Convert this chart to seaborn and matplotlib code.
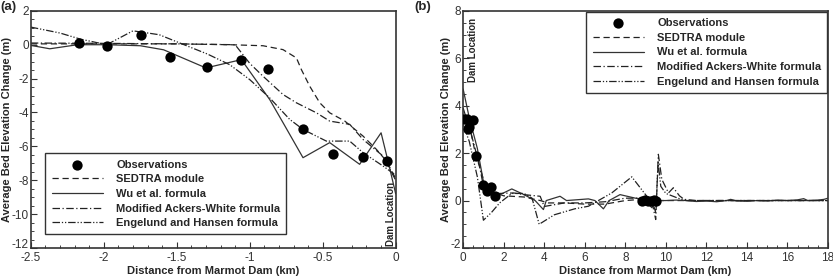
import matplotlib
matplotlib.use("Agg")
import matplotlib.pyplot as plt
import matplotlib.transforms as mtransforms
import seaborn as sns
import pandas as pd

# ---- panel (a): last 2.5 km upstream of the dam ----
a_obs_x = [-2.17, -1.98, -1.745, -1.546, -1.29, -1.057, -0.875, -0.632, -0.427, -0.224, -0.06]
a_obs_y = [0.13, -0.1, 0.55, -0.7, -1.3, -0.88, -1.43, -4.96, -6.47, -6.6, -6.86]

a_sed_x = [-2.5, -2.0, -1.5, -1.137, -0.909, -0.772, -0.68, -0.646, -0.589, -0.52, -0.452, -0.35, -0.224, -0.132, -0.064, 0.0]
a_sed_y = [0.05, 0.05, 0.05, 0.0, -0.06, -0.29, -0.78, -1.47, -2.45, -3.43, -4.02, -4.5, -5.39, -6.18, -6.86, -7.9]

a_wu_x = [-2.5, -2.37, -2.18, -1.98, -1.75, -1.59, -1.3, -1.057, -0.863, -0.772, -0.635, -0.452, -0.247, -0.1, -0.05, 0.0]
a_wu_y = [-0.04, -0.24, 0.0, 0.0, -0.06, -0.3, -1.37, -0.88, -3.24, -4.6, -6.67, -5.78, -7.06, -5.2, -6.96, -8.8]

a_aw_x = [-2.5, -2.0, -1.5, -1.1, -1.0, -0.909, -0.772, -0.68, -0.543, -0.452, -0.315, -0.224, -0.087, 0.0]
a_aw_y = [0.1, 0.08, 0.05, 0.0, -1.1, -1.86, -2.94, -3.43, -4.02, -4.51, -4.7, -5.59, -6.57, -8.0]

a_eh_x = [-2.5, -2.3, -2.16, -1.98, -1.8, -1.62, -1.45, -1.29, -1.137, -1.0, -0.863, -0.726, -0.635, -0.475, -0.315, -0.224, -0.087, 0.0]
a_eh_y = [1.04, 0.69, 0.33, 0.0, 0.82, 0.59, 0.0, -0.55, -1.18, -2.06, -3.14, -4.41, -5.0, -5.69, -5.69, -6.37, -7.16, -7.7]

a_xticks = [-2.5, -2, -1.5, -1, -0.5, 0]
a_xlabels = ["-2.5", "-2", "-1.5", "-1", "-0.5", "0"]
a_yticks = [-12, -10, -8, -6, -4, -2, 0, 2]

# ---- panel (b): 18 km downstream of the dam ----
b_obs_x = [0.05, 0.2, 0.3, 0.51, 0.26, 0.64, 1.0, 1.17, 1.38, 1.58, 1.25, 8.8, 8.95, 9.1, 9.25, 9.4, 9.5]
b_obs_y = [3.45, 3.42, 3.1, 3.4, 3.0, 1.87, 0.67, 0.39, 0.58, 0.21, 0.5, 0.0, 0.02, -0.02, 0.0, 0.03, 0.0]

b_sed_x = [0, 0.3, 0.6, 1.0, 1.5, 2.0, 3.0, 3.8, 4.2, 5.0, 6.0, 7.0, 8.0, 8.8, 9.5, 10, 11, 12, 14, 16, 18]
b_sed_y = [3.6, 3.2, 2.0, 0.9, 0.35, 0.2, 0.15, 0.0, -0.1, -0.1, -0.15, -0.15, 0.0, 0.05, 0.0, 0.0, 0.0, 0.0, 0.0, 0.0, 0.0]

b_wu_x = [0, 0.3, 0.7, 1.0, 1.3, 1.6, 1.82, 2.4, 3.0, 3.55, 3.96, 4.1, 4.78, 5.1, 6.18, 6.5, 6.92, 7.2, 7.74,
          8.5, 9.0, 9.3, 9.6, 10.0, 10.5, 11, 11.5, 12, 12.5, 13, 13.2, 13.5, 14, 14.5, 15, 15.5, 16, 16.5,
          16.8, 17, 17.5, 17.8, 18]
b_wu_y = [4.7, 3.5, 2.2, 0.8, 0.3, 0.1, 0.25, 0.49, 0.25, 0.0, -0.38, 0.0, 0.18, 0.0, 0.07, 0.0, -0.35, 0.0, 0.25,
          0.1, 0.05, -0.3, 0.0, 0.0, 0.02, 0.0, -0.04, -0.02, -0.05, 0.0, 0.05, -0.02, -0.03, 0.0, -0.02, 0.02,
          0.0, 0.03, 0.08, 0.0, 0.02, 0.05, 0.1]

b_aw_x = [0, 0.4, 0.8, 1.0, 1.3, 1.8, 2.5, 3.0, 3.8, 4.0, 5.0, 6.0, 7.0, 8.0, 8.8, 9.3, 9.5, 9.63, 9.8,
          10.13, 10.37, 10.67, 10.9, 11.5, 12, 14, 16, 18]
b_aw_y = [3.9, 2.8, 1.5, 0.6, 0.35, 0.3, 0.32, 0.25, 0.18, -0.25, -0.1, -0.1, -0.05, 0.1, 0.1, 0.0, -0.8, 1.95, 0.9,
          0.32, 0.54, 0.2, 0.05, 0.0, 0.0, 0.0, 0.0, 0.0]

b_eh_x = [0, 0.3, 0.7, 1.0, 1.4, 1.8, 2.4, 3.0, 3.4, 3.75, 4.5, 5.5, 6.18, 7.33, 8.32, 9.06, 9.3, 9.5, 9.62,
          9.75, 10.0, 10.6, 11, 12, 14, 16, 18]
b_eh_y = [3.2, 2.5, 1.0, -0.83, -0.5, -0.1, 0.3, 0.3, 0.1, -1.0, -0.6, -0.35, -0.24, 0.32, 1.0, 0.18, 0.05, -0.5, 1.6,
          0.6, 0.3, 0.1, 0.0, 0.0, 0.0, 0.0, 0.0]

b_xticks = [0, 2, 4, 6, 8, 10, 12, 14, 16, 18]
b_yticks = [-2, 0, 2, 4, 6, 8]

labels = ["Observations", "SEDTRA module", "Wu et al. formula",
          "Modified Ackers-White formula", "Engelund and Hansen formula"]

sns.set_style("ticks")
plt.rcParams['font.family'] = ['Liberation Sans', 'DejaVu Sans']
plt.rcParams['axes.unicode_minus'] = False

styles = {
    "SEDTRA module": dict(linestyle=(0, (5, 3)), color="#222222"),
    "Wu et al. formula": dict(linestyle="-", color="#333333"),
    "Modified Ackers-White formula": dict(linestyle=(0, (6, 2, 1, 2)), color="#222222"),
    "Engelund and Hansen formula": dict(linestyle=(0, (6, 1.5, 1, 1.5, 1, 1.5)), color="#222222"),
}


def draw_panel(ax, obs, series):
    for name, (xs, ys) in series.items():
        df = pd.DataFrame({"x": xs, "y": ys})
        sns.lineplot(data=df, x="x", y="y", ax=ax, sort=False, errorbar=None,
                     linewidth=0.9, label=name, **styles[name])
    sns.scatterplot(x=obs[0], y=obs[1], ax=ax, color="black", s=55,
                    edgecolor="black", linewidth=0, label="Observations", zorder=5)
    h, l = ax.get_legend_handles_labels()
    order = [l.index(n) for n in labels]
    return [h[i] for i in order]


fig = plt.figure(figsize=(8.33, 2.78), dpi=100)
ax_a = fig.add_axes([0.037, 0.108, 0.438, 0.853])
ax_b = fig.add_axes([0.556, 0.108, 0.438, 0.853])

ha = draw_panel(ax_a, (a_obs_x, a_obs_y),
                {"SEDTRA module": (a_sed_x, a_sed_y), "Wu et al. formula": (a_wu_x, a_wu_y),
                 "Modified Ackers-White formula": (a_aw_x, a_aw_y),
                 "Engelund and Hansen formula": (a_eh_x, a_eh_y)})
hb = draw_panel(ax_b, (b_obs_x, b_obs_y),
                {"SEDTRA module": (b_sed_x, b_sed_y), "Wu et al. formula": (b_wu_x, b_wu_y),
                 "Modified Ackers-White formula": (b_aw_x, b_aw_y),
                 "Engelund and Hansen formula": (b_eh_x, b_eh_y)})

leg_kw = dict(prop={'weight': 'bold', 'size': 8}, frameon=True, fancybox=False,
              framealpha=1, edgecolor="#333333", handlelength=4.6, handletextpad=1.2,
              labelspacing=0.42, borderpad=0.55, scatterpoints=1)
la = ax_a.legend(ha, labels, loc="lower left", bbox_to_anchor=(0.025, 0.034), **leg_kw)
lb = ax_b.legend(hb, labels, loc="upper right", bbox_to_anchor=(0.998, 0.995), borderaxespad=0, **leg_kw)
for lg in (la, lb):
    lg.get_frame().set_linewidth(1.0)

ax_a.set_xlim(-2.5, 0)
ax_a.set_ylim(-12, 2)
ax_a.set_xticks(a_xticks)
ax_a.set_xticklabels(a_xlabels)
ax_a.set_yticks(a_yticks)
ax_a.xaxis.set_minor_locator(matplotlib.ticker.MultipleLocator(0.1))
ax_a.yaxis.set_minor_locator(matplotlib.ticker.MultipleLocator(0.5))

ax_b.set_xlim(0, 18)
ax_b.set_ylim(-2, 8)
ax_b.set_xticks(b_xticks)
ax_b.set_yticks(b_yticks)
ax_b.xaxis.set_minor_locator(matplotlib.ticker.MultipleLocator(0.5))
ax_b.yaxis.set_minor_locator(matplotlib.ticker.MultipleLocator(0.5))

for ax in (ax_a, ax_b):
    ax.set_xlabel("Distance from Marmot Dam (km)", fontsize=8, fontweight="bold", labelpad=1)
    ax.set_ylabel("Average Bed Elevation Change (m)", fontsize=8, fontweight="bold", labelpad=0)
    ax.tick_params(axis="both", which="major", direction="in", length=4, width=0.8,
                   labelsize=8.5, pad=1.5, colors="#333333")
    ax.tick_params(axis="x", which="major", pad=3)
    ax.tick_params(axis="both", which="minor", direction="in", length=2, width=0.6)
    for sp in ax.spines.values():
        sp.set_linewidth(1.2)
        sp.set_color("#333333")

# lift the lowest y labels a little so they clear the first x labels
lift = mtransforms.ScaledTranslation(0, 3 / 72, fig.dpi_scale_trans)
for ax in (ax_a, ax_b):
    lab = ax.yaxis.get_major_ticks()[0].label1
    lab.set_transform(lab.get_transform() + lift)

ax_a.text(0.988, 0.01, "Dam Location", transform=ax_a.transAxes, rotation=90,
          ha="center", va="bottom", fontsize=7, fontweight="bold")
ax_b.text(0.026, 0.97, "Dam Location", transform=ax_b.transAxes, rotation=90,
          ha="center", va="top", fontsize=7, fontweight="bold")

fig.text(0.0, 0.995, "(a)", fontsize=9.5, fontweight="bold", ha="left", va="top")
fig.text(0.497, 0.995, "(b)", fontsize=9.5, fontweight="bold", ha="left", va="top")

fig.savefig("out.png", dpi=100)
